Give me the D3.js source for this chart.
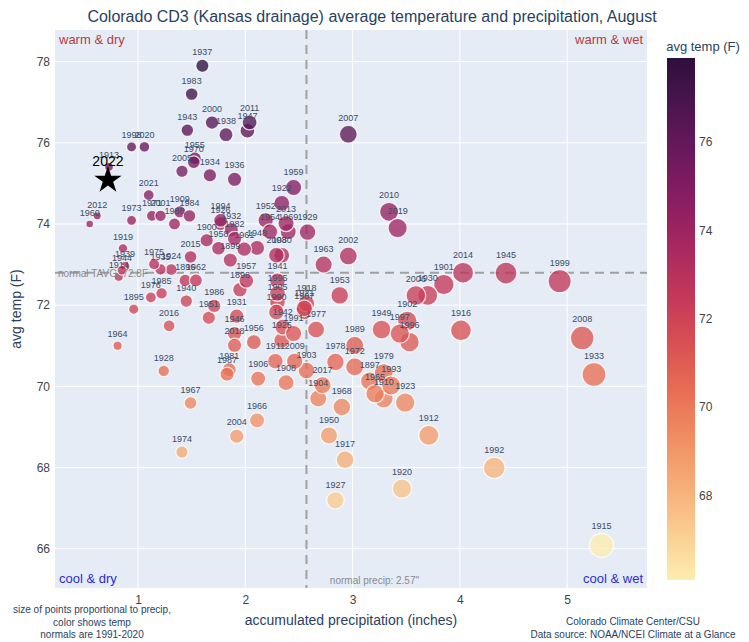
<!DOCTYPE html>
<html>
<head>
<meta charset="utf-8">
<script src="https://cdn.jsdelivr.net/npm/d3@7"></script>
<style>
body { margin: 0; background: #fff; }
text { font-family: "Liberation Sans", Arial, sans-serif; }
</style>
</head>
<body>
<script>
// august values, one entry per year
var years = [1895,1896,1897,1898,1899,1900,1901,1902,1903,1904,1905,1906,1907,1908,1909,1910,
  1911,1912,1913,1914,1915,1916,1917,1918,1919,1920,1921,1922,1923,1924,1925,1926,1927,1928,1929,1930,
  1931,1932,1933,1934,1935,1936,1937,1938,1939,1940,1941,1942,1943,1944,1945,1946,1947,1948,1949,1950,
  1951,1952,1953,1954,1955,1956,1957,1958,1959,1960,1961,1962,1963,1964,1965,1966,1967,1968,1969,1970,
  1971,1972,1973,1974,1975,1976,1977,1978,1979,1980,1981,1982,1983,1984,1985,1986,1987,1988,1989,1990,
  1991,1992,1993,1994,1995,1996,1997,1998,1999,2000,2001,2002,2003,2004,2005,2006,2007,2008,2009,2010,
  2011,2012,2013,2014,2015,2016,2017,2018,2019,2020,2021,2022];
var precip = [0.96,1.44,3.16,1.95,1.86,1.64,3.85,3.51,2.57,2.68,2.30,2.12,2.55,2.38,1.39,3.29,
  2.28,3.71,0.73,0.82,5.32,4.01,2.93,2.57,0.86,3.46,2.55,2.34,3.49,1.31,2.34,1.77,2.84,1.24,2.58,3.70,
  1.92,1.87,5.25,1.67,1.21,1.90,1.60,1.82,0.88,1.45,2.30,2.35,1.46,0.85,4.43,1.90,2.02,2.11,3.27,2.78,
  1.66,2.19,2.88,2.23,1.53,2.08,2.01,1.75,2.45,0.55,1.99,1.54,2.73,0.81,3.21,2.11,1.49,2.90,2.40,1.52,
  1.13,3.02,0.94,1.41,1.15,1.12,2.66,2.84,3.29,2.34,1.85,1.90,1.50,1.48,1.22,1.71,1.83,1.34,3.02,2.29,
  2.45,4.32,3.36,1.77,2.30,3.53,3.44,0.94,4.93,1.69,1.21,2.96,2.29,1.92,1.41,3.59,2.96,5.14,2.46,3.34,
  2.04,0.62,2.38,4.03,1.49,1.29,2.72,1.90,3.42,1.06,1.10,0.72];
var temp = [71.90,72.61,70.13,72.38,73.11,73.60,72.51,71.61,70.39,69.70,72.08,70.19,71.85,70.09,74.30,69.70,
  70.62,68.79,75.41,72.70,66.08,71.38,68.19,72.04,73.40,67.48,71.92,74.51,69.60,72.88,71.13,74.01,67.19,70.38,73.80,72.24,
  71.73,73.86,70.29,75.20,72.88,75.10,77.90,76.20,72.96,72.10,72.60,71.46,76.31,72.86,72.79,71.30,76.30,73.41,71.40,68.79,
  71.69,74.09,72.24,73.81,75.62,71.09,72.60,73.40,74.90,74.00,73.38,72.61,73.00,71.00,69.82,69.16,69.59,69.49,73.81,75.52,
  74.20,70.48,74.09,68.38,73.01,72.19,71.40,70.60,70.33,73.23,70.41,73.64,77.20,74.20,72.29,71.98,70.30,74.00,71.01,71.83,
  71.30,67.99,70.02,74.09,72.29,71.09,71.30,75.90,72.59,76.50,74.20,73.21,73.23,68.77,75.30,72.24,76.21,71.19,70.62,74.30,
  76.50,74.20,74.01,72.80,73.19,71.49,70.03,71.01,73.90,75.90,74.71,75.08];

var xTicks = [1, 2, 3, 4, 5];
var yTicks = [66, 68, 70, 72, 74, 76, 78];
var cbTicks = [68, 70, 72, 74, 76];
var normalTemp = 72.8;
var normalPrecip = 2.57;
var matter = ['rgb(253,237,176)','rgb(250,205,145)','rgb(246,173,119)','rgb(240,142,98)',
  'rgb(231,109,84)','rgb(216,80,83)','rgb(195,56,90)','rgb(168,40,96)','rgb(138,29,99)',
  'rgb(107,24,93)','rgb(76,21,80)','rgb(47,15,61)'];

var W = 749, H = 642;
var pL = 55, pR = 647, pT = 30, pB = 588;

var svg = d3.select('body').append('svg')
  .attr('width', W)
  .attr('height', H);

var x = d3.scaleLinear().domain([0.2265, 5.744]).range([pL, pR]);
var y = d3.scaleLinear().domain([65.03, 78.78]).range([pB, pT]);

var tmin = d3.min(temp.slice(0, -1)), tmax = d3.max(temp);
var color = d3.scaleLinear()
  .domain(matter.map(function(c, i) { return tmin + i * (tmax - tmin) / (matter.length - 1); }))
  .range(matter);
var r = d3.scaleSqrt().domain([0, 5.32]).range([0, 12]);

// plot background
svg.append('rect')
  .attr('x', pL).attr('y', pT)
  .attr('width', pR - pL).attr('height', pB - pT)
  .attr('fill', '#e5ecf6');

svg.append('g').selectAll('line').data(xTicks).enter().append('line')
  .attr('x1', d => x(d)).attr('x2', d => x(d))
  .attr('y1', pT).attr('y2', pB)
  .attr('stroke', '#fff').attr('stroke-width', 1);
svg.append('g').selectAll('line').data(yTicks).enter().append('line')
  .attr('x1', pL).attr('x2', pR)
  .attr('y1', d => y(d)).attr('y2', d => y(d))
  .attr('stroke', '#fff').attr('stroke-width', 1);

// axes (labels only, plotly style)
var xAxis = svg.append('g')
  .attr('transform', 'translate(0,' + pB + ')')
  .call(d3.axisBottom(x).tickValues(xTicks).tickSize(0).tickPadding(7).tickFormat(d3.format('d')));
var yAxis = svg.append('g')
  .attr('transform', 'translate(' + pL + ',0)')
  .call(d3.axisLeft(y).tickValues(yTicks).tickSize(0).tickPadding(5).tickFormat(d3.format('d')));
[xAxis, yAxis].forEach(function(a) {
  a.select('.domain').remove();
  a.selectAll('text').attr('fill', '#444').style('font-size', '12px')
    .style('font-family', '"Liberation Sans", Arial, sans-serif');
});

// normal lines
svg.append('line')
  .attr('x1', pL).attr('x2', pR)
  .attr('y1', y(normalTemp)).attr('y2', y(normalTemp))
  .attr('stroke', '#a0a0a0').attr('stroke-width', 2).attr('stroke-dasharray', '9,6');
svg.append('line')
  .attr('x1', x(normalPrecip)).attr('x2', x(normalPrecip))
  .attr('y1', pT).attr('y2', pB)
  .attr('stroke', '#a0a0a0').attr('stroke-width', 2).attr('stroke-dasharray', '9,6');

var pts = years.map(function(yr, i) { return { year: yr, p: precip[i], t: temp[i] }; });
var dots = pts.filter(d => d.year !== 2022);
var now = pts.filter(d => d.year === 2022)[0];

svg.append('g').selectAll('circle').data(dots).enter().append('circle')
  .attr('cx', d => x(d.p))
  .attr('cy', d => y(d.t))
  .attr('r', d => r(d.p))
  .attr('fill', d => color(d.t))
  .attr('fill-opacity', 0.78)
  .attr('stroke', '#fff')
  .attr('stroke-opacity', 0.8)
  .attr('stroke-width', 1.3);

svg.append('g').selectAll('text').data(dots).enter().append('text')
  .attr('x', d => x(d.p))
  .attr('y', d => y(d.t) - r(d.p) - 4)
  .attr('text-anchor', 'middle')
  .attr('fill', '#3b4b66')
  .style('font-size', '9px')
  .text(d => d.year);

// 2022 star
svg.append('path')
  .attr('d', d3.symbol().type(d3.symbolStar).size(230))
  .attr('transform', 'translate(' + x(now.p) + ',' + y(now.t) + ')')
  .attr('fill', '#000');
svg.append('text')
  .attr('x', x(now.p)).attr('y', y(now.t) - 14)
  .attr('text-anchor', 'middle')
  .attr('fill', '#000')
  .style('font-size', '14px')
  .text(now.year);

// quadrant notes
var corner = [
  { t: 'warm & dry', x: pL + 4, y: pT + 14, a: 'start', c: '#b5403a' },
  { t: 'warm & wet', x: pR - 4, y: pT + 14, a: 'end', c: '#b5403a' },
  { t: 'cool & dry', x: pL + 4, y: pB - 5, a: 'start', c: '#2b2bd9' },
  { t: 'cool & wet', x: pR - 4, y: pB - 5, a: 'end', c: '#2b2bd9' }
];
svg.append('g').selectAll('text').data(corner).enter().append('text')
  .attr('x', d => d.x).attr('y', d => d.y)
  .attr('text-anchor', d => d.a)
  .attr('fill', d => d.c)
  .style('font-size', '13px')
  .text(d => d.t);

svg.append('text')
  .attr('x', pL + 3).attr('y', y(normalTemp) + 4)
  .attr('fill', '#8a8a8a').style('font-size', '10px')
  .text('normal TAVG: ' + normalTemp + 'F');
svg.append('text')
  .attr('x', x(normalPrecip) + 68).attr('y', pB - 4)
  .attr('text-anchor', 'middle')
  .attr('fill', '#8a8a8a').style('font-size', '10px')
  .text('normal precip: ' + normalPrecip + '"');

// title and axis titles
svg.append('text')
  .attr('x', 372).attr('y', 22)
  .attr('text-anchor', 'middle')
  .attr('fill', '#2a3f5f').style('font-size', '16px')
  .text('Colorado CD3 (Kansas drainage) average temperature and precipitation, August');
svg.append('text')
  .attr('x', (pL + pR) / 2).attr('y', 625)
  .attr('text-anchor', 'middle')
  .attr('fill', '#2a3f5f').style('font-size', '14px')
  .text('accumulated precipitation (inches)');
svg.append('text')
  .attr('transform', 'translate(21,' + (pT + pB) / 2 + ') rotate(-90)')
  .attr('text-anchor', 'middle')
  .attr('fill', '#2a3f5f').style('font-size', '14px')
  .text('avg temp (F)');

// footnotes
var noteL = ['size of points proportional to precip,', 'color shows temp', 'normals are 1991-2020'];
svg.append('g').selectAll('text').data(noteL).enter().append('text')
  .attr('x', 92).attr('y', (d, i) => 613 + i * 12.5)
  .attr('text-anchor', 'middle')
  .attr('fill', '#2a3f5f').style('font-size', '10px')
  .text(d => d);
var noteR = ['Colorado Climate Center/CSU', 'Data source: NOAA/NCEI Climate at a Glance'];
svg.append('g').selectAll('text').data(noteR).enter().append('text')
  .attr('x', 633).attr('y', (d, i) => 625 + i * 13)
  .attr('text-anchor', 'middle')
  .attr('fill', '#2a3f5f').style('font-size', '10px')
  .text(d => d);

// colorbar
var cbX = 667, cbW = 28, cbTop = 58, cbBot = 580;
var cby = d3.scaleLinear().domain([tmin, tmax]).range([cbBot, cbTop]);
var grad = svg.append('defs').append('linearGradient')
  .attr('id', 'cb').attr('x1', 0).attr('x2', 0).attr('y1', 1).attr('y2', 0);
grad.selectAll('stop').data(matter).enter().append('stop')
  .attr('offset', (d, i) => i / (matter.length - 1))
  .attr('stop-color', d => d);
svg.append('rect')
  .attr('x', cbX).attr('y', cbTop)
  .attr('width', cbW).attr('height', cbBot - cbTop)
  .attr('fill', 'url(#cb)');
var cbAxis = svg.append('g')
  .attr('transform', 'translate(' + (cbX + cbW) + ',0)')
  .call(d3.axisRight(cby).tickValues(cbTicks).tickSize(0).tickPadding(4).tickFormat(d3.format('d')));
cbAxis.select('.domain').remove();
cbAxis.selectAll('text').attr('fill', '#444').style('font-size', '12px')
  .style('font-family', '"Liberation Sans", Arial, sans-serif');
svg.append('text')
  .attr('x', 703).attr('y', 51)
  .attr('text-anchor', 'middle')
  .attr('fill', '#2a3f5f').style('font-size', '13px')
  .text('avg temp (F)');
</script>
</body>
</html>
